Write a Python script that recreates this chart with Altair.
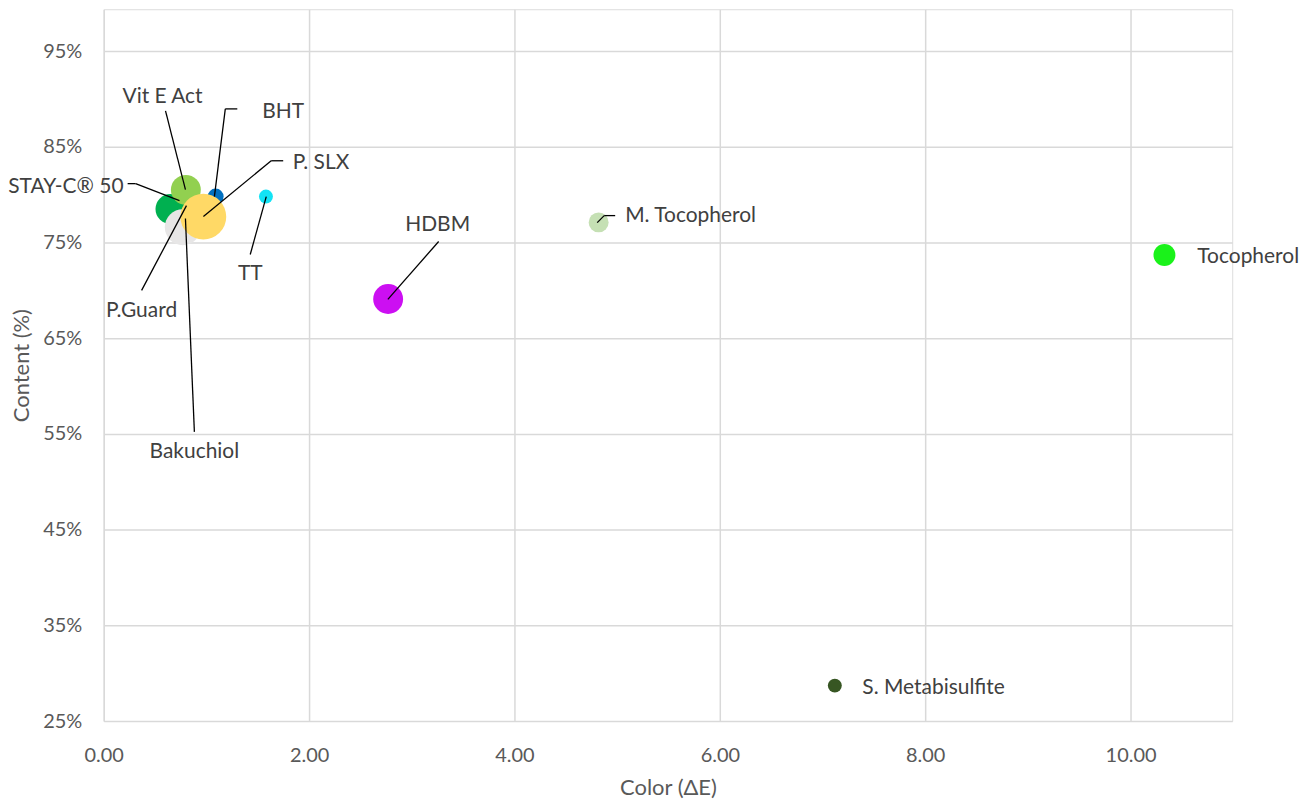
import altair as alt
import pandas as pd

# Bubble data (drawing order matters: later ones on top)
names = ["P.Guard", "STAY-C® 50", "Bakuchiol", "Vit E Act", "BHT", "P. SLX",
         "TT", "HDBM", "M. Tocopherol", "Tocopherol", "S. Metabisulfite"]
color_de = [0.81, 0.65, 0.77, 0.80, 1.09, 0.97, 1.58, 2.77, 4.82, 10.33, 7.12]
content = [78.8, 78.5, 76.6, 80.5, 79.8, 77.7, 79.8, 69.1, 77.1, 73.7, 28.7]
bubble = [25, 225, 324, 225, 64, 529, 49, 225, 100, 121, 49]
colors = ["#A5A5A5", "#00B050", "#E7E6E6", "#92D050", "#0070C0", "#FFD966",
          "#13E3F5", "#CC0FF2", "#C5E0B4", "#1AF21A", "#375623"]

# Data label placement (data units)
label_x = [0.369, 0.194, 0.883, 0.573, 1.748, 2.117, 1.427, 3.252, 5.078, 10.65, 7.388]
label_y = [67.8, 80.8, 53.1, 90.2, 88.65, 83.3, 71.7, 76.8, 77.8, 73.5, 28.5]
label_align = ["center", "right", "center", "center", "center", "center",
               "center", "center", "left", "left", "left"]

# Leader line segments (data units)
lead_x1 = [0.602, 1.301, 1.184, 1.748, 1.631, 0.233, 0.311, 1.427, 0.369, 0.883, 3.262, 4.981, 4.874]
lead_y1 = [88.75, 88.96, 88.96, 83.54, 83.54, 81.15, 81.15, 73.75, 70.0, 55.21, 75.10, 77.81, 77.81]
lead_x2 = [0.796, 1.184, 1.078, 1.631, 0.971, 0.311, 0.738, 1.583, 0.806, 0.796, 2.767, 4.874, 4.806]
lead_y2 = [80.52, 88.96, 79.79, 83.54, 77.71, 81.15, 79.38, 79.79, 78.85, 77.5, 69.06, 77.81, 77.08]

x_ticks = [0, 2, 4, 6, 8, 10]
y_ticks = [25, 35, 45, 55, 65, 75, 85, 95]

FONT = "Lato"

pts = pd.DataFrame({"name": names, "x": color_de, "y": content, "b": bubble,
                    "c": colors, "order": list(range(len(names)))})
labs = pd.DataFrame({"name": names, "x": label_x, "y": label_y, "align": label_align})
leads = pd.DataFrame({"x": lead_x1, "y": lead_y1, "x2": lead_x2, "y2": lead_y2})

xs = alt.Scale(domain=[0, 10.99], nice=False, zero=False)
ys = alt.Scale(domain=[25, 99.375], nice=False, zero=False)

xaxis = alt.Axis(values=x_ticks, format=".2f", title="Color (ΔE)", grid=True,
                 gridColor="#D9D9D9", gridWidth=1.5, domain=False, ticks=False,
                 labelFlush=False,
                 labelFont=FONT, labelFontSize=20, labelColor="#595959", labelPadding=25,
                 titleFont=FONT, titleFontSize=22, titleColor="#595959",
                 titleFontWeight="normal", titlePadding=12)
yaxis = alt.Axis(values=y_ticks, labelExpr="datum.value + '%'", title="Content (%)",
                 grid=True, gridColor="#D9D9D9", gridWidth=1.5, domain=False, ticks=False,
                 labelFlush=False,
                 labelFont=FONT, labelFontSize=20, labelColor="#595959", labelPadding=22,
                 titleFont=FONT, titleFontSize=22, titleColor="#595959",
                 titleFontWeight="normal", titlePadding=9)

base_grid = alt.Chart(pts).mark_point(opacity=0).encode(
    x=alt.X("x:Q", scale=xs, axis=xaxis),
    y=alt.Y("y:Q", scale=ys, axis=yaxis),
)

bubbles = alt.Chart(pts).mark_circle(opacity=1).encode(
    x=alt.X("x:Q", scale=xs),
    y=alt.Y("y:Q", scale=ys),
    size=alt.Size("b:Q", scale=alt.Scale(domain=[0, 529], range=[0, 2116], zero=True), legend=None),
    color=alt.Color("c:N", scale=None),
    order=alt.Order("order:Q"),
)

lines = alt.Chart(leads).mark_rule(color="black", strokeWidth=1.3).encode(
    x=alt.X("x:Q", scale=xs), y=alt.Y("y:Q", scale=ys),
    x2="x2:Q", y2="y2:Q",
)

def label_layer(align):
    return alt.Chart(labs[labs["align"] == align]).mark_text(
        font=FONT, fontSize=21, color="#404040", align=align, baseline="middle"
    ).encode(x=alt.X("x:Q", scale=xs), y=alt.Y("y:Q", scale=ys), text="name:N")

chart = alt.layer(base_grid, bubbles, lines, label_layer("center"),
                  label_layer("left"), label_layer("right")).properties(
    width=1132, height=714,
    autosize=alt.AutoSizeParams(type="none"),
    padding={"left": 96, "top": 0, "right": 70, "bottom": 78},
).configure_view(stroke=None).configure(background="white")

chart.save("out.html", embed_options={"renderer": "svg", "actions": False})
